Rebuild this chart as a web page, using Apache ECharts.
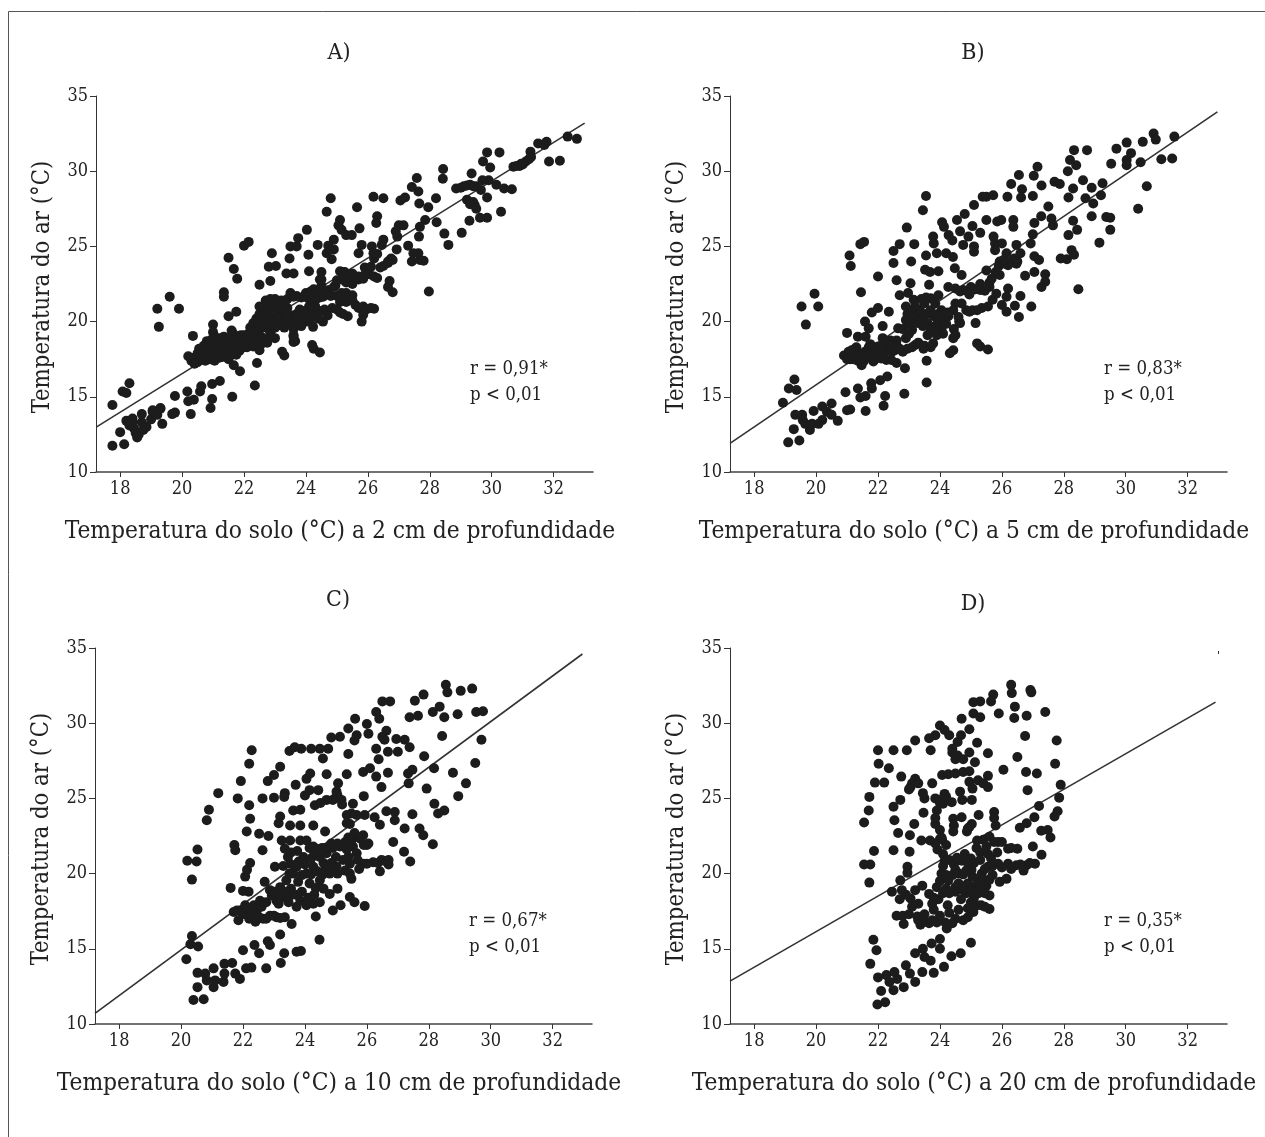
<!DOCTYPE html>
<html>
<head>
<meta charset="utf-8">
<title>Temperatura do ar e do solo</title>
<script src="https://cdn.jsdelivr.net/npm/echarts@6/dist/echarts.min.js"></script>
<style>
html, body { margin: 0; padding: 0; background: #fff; }
#main { width: 1265px; height: 1137px; }
</style>
</head>
<body>
<div id="main"></div>
<script>
var panelNames = ['A)', 'B)', 'C)', 'D)'];
var depths = ['2', '5', '10', '20'];
var rValues = ['0,91*', '0,83*', '0,67*', '0,35*'];
var xTicks = [18, 20, 22, 24, 26, 28, 30, 32];

// pontos: [solo, ar]
var pointsA = [
[17.75,11.75],[18.13,11.85],[18,12.65],[18.3,15.9],[18.08,15.35],[18.2,15.25],[17.75,14.45],
[18.2,13.4],[18.3,13.1],[18.4,13.3],[18.45,12.9],[18.5,12.6],[18.55,12.3],[18.6,12.5],[18.7,13.3],[18.75,12.8],[18.85,13],[19,13.5],[19.05,14],[19.2,13.8],[19.3,14.2],[19.36,13.2],[19.3,14.25],[19.05,14.1],[18.7,13.85],[18.4,13.55],
[19.77,13.95],[19.68,13.85],[19.77,15.05],[20.28,13.85],[20.17,15.35],[20.2,14.7],[20.38,14.8],[20.58,15.35],[20.62,15.7],[20.97,14.85],[20.92,14.25],[20.97,15.85],[21.22,16.05],[21.62,15],[22.35,15.75],
[21.87,16.7],[21.67,17.1],[22.42,17.25],[23.3,17.75],[23.23,18],[24.2,18.45],[24.25,18.2],[24.45,17.95],[24.23,19.65],[20.35,19.05],[19.25,19.65],[19.2,20.85],[19.9,20.85],[19.6,21.65],
[21.35,21.95],[21.35,21.65],[21.78,22.85],[21.67,23.5],[21.5,24.25],[22,25.05],[22.15,25.3],[21.5,20.35],[21.75,20.65],[21,19.8],
[20.2,17.7],[20.3,17.4],[20.4,17.6],[20.5,17.9],[20.5,17.3],[20.6,17.6],[20.7,17.9],[20.75,17.4],[20.8,17.7],[20.85,18.1],[20.9,17.5],[21,17.8],[21,18.3],[21.05,17.4],[21.1,18],[21.2,17.6],[21.25,18.2],[21.3,17.65],[21.35,18.4],[21.4,18.6],[21.45,18.2],[21.5,18.9],[21.55,18.4],[21.6,18.7],[21.65,19.2],[21.7,18.3],[21.75,17.8],[20.8,18.7],[20.95,18.8],[21,19.3],[21.05,19],
[21.85,18.6],[21.9,19.1],[22,18.3],[22.1,18.3],[22.2,18.5],[22.3,18.35],[22.4,18.4],[22.5,18.1],[22.15,19.2],[22.2,19.6],[22.3,19.9],[22.35,19.4],[22.4,20.2],[22.45,19.7],[22.5,20.5],[22.55,20],[22.6,20.8],[22.65,20.3],[22.7,19.7],[22.75,21],[22.8,20.5],[22.85,20.1],[22.9,19.5],[22.9,20.9],[23,20.3],[23,21],[23.05,19.7],[23.15,20.6],[23.2,21],[23.2,20],[23.3,19.6],[23.35,20.4],[23.4,20.9],[23.5,20],[23.55,20.4],[22.8,18.9],[22.85,19.2],[22.75,18.6],[23,18.9],
[23.6,19.5],[23.6,19],[23.65,18.7],[23.7,20.5],[23.8,20.8],[23.85,20.3],[24,20],[24.1,20.6],[24.15,20.2],[24.3,20.5],[24.4,20.2],[24.55,20],[23.4,21.5],[23.5,21.9],[23.7,21.7],[23.85,21.6],[24,21.9],[24.1,21.5],[24.15,22],[24.25,21.7],[24.35,22],[24.45,21.6],[24.6,21.9],[24.75,22.1],[24.8,21.7],
[24.45,22.8],[24.5,22.4],[24.95,22.4],[25,21.7],[25.1,21.3],[25.2,21.7],[25.3,21.3],[25.4,21.6],[25.6,21.1],[25.7,20.9],[25.85,21],[25.95,20.8],[26.1,20.9],[26.2,20.85],[25.85,20.45],[25.8,20],[25.35,20.35],[24.85,20.9],[25,20.8],[25.2,20.5],
[25.1,23.35],[25.25,23.3],[25.4,22.9],[25.5,23.2],[25.6,22.85],[25.7,23],[25.85,22.85],[25.95,23.3],[26.05,23.15],[26.2,23],[26.3,22.9],[26.4,23.6],[26.5,23.7],[26.65,24],[26.75,24.2],[26.7,22.7],[26.65,22.3],[26.8,21.95],
[25.8,25.1],[25.7,24.55],[26.13,25],[26.18,24.55],[26.45,25.1],[26.5,25.45],[26.93,24.8],[27.3,25.05],[27.65,25.65],[27.47,24.55],[27.42,24],[27.63,24.55],[27.68,24.1],[27.8,24.05],[27.97,22],
[28.6,25.1],[28.47,25.85],[29.03,25.9],[29.28,26.7],[28.22,26.6],[27.85,26.75],[27.68,26.3],[27.95,27.6],[28.2,28.2],[27.66,27.85],[27.63,28.65],[27.42,28.95],[27.58,29.55],[28.42,29.5],[28.43,30.15],
[26.18,28.3],[26.5,28.2],[27.05,28.05],[27.2,28.25],[25.65,27.6],[24.8,28.2],[24.67,27.3],[26.3,27],[26.27,26.55],[25.73,26.2],[25.1,26.75],[25.05,26.4],[25.15,26.1],[25.3,25.75],[25.48,25.75],[24.9,25.45],[24.72,25.05],[24.9,24.8],[24.67,24.55],[24.83,24.15],[24.38,25.1],[24.03,26.1],[23.75,25.55],[23.7,25],[23.5,25],[24.08,24.45],[23.47,24.2],[22.9,24.55],[22.8,23.65],[23.03,23.7],[23.37,23.2],[23.6,23.2],[24.1,23.35],[24.5,23.3],[22.85,22.7],[22.5,22.45],
[27,26.4],[27.15,26.4],[26.9,26],[26.95,25.65],[26.8,24.1],[26.65,23.9],
[28.85,28.85],[29.1,29],[29.3,29.1],[29.5,29],[29.65,28.75],[29.35,29.85],[29.9,29.4],[30.15,29.1],[30.4,28.85],[30.65,28.8],[30.3,27.3],[29.85,26.9],[29.62,26.9],[29.85,28.25],[29.45,27.75],[29.2,28.1],[29.4,27.95],[29.72,30.65],[29.95,30.25],[29.85,31.25],[30.25,31.25],[30.7,30.3],[30.9,30.35],[31.1,30.65],[31.25,31.3],[31.27,30.95],[31.5,31.85],[31.7,31.75],[31.85,30.65],[32.2,30.7],[31.77,31.95],[32.45,32.3],[32.75,32.15],
[24.5,22.8],[24.9,22.3],[25,22.75],[25.2,23.3],[25.55,22.8],[25.7,22.8],[25.3,21.9],[25.5,21.75],[23.6,19.1],[23.6,18.65],
[22.5,21],[22.7,21.4],[22.85,21.5],[23,21.5],[23.2,21.4],[22.6,19.6],[22.8,19.5],[23,19.6],[23.1,20.1],[22.4,19.3],[22.55,19],[23.15,20.9],[23.3,21.2],[23.4,20.4],[23.45,19.9],[23.7,19.9],[23.85,19.7],
[21.3,17.9],[21.55,17.9],[21.5,17.5],[21.8,18.2],[21.65,17.9],[21.1,18.6],[20.7,18.4],[20.55,18.2],[20.4,17.2],[21.85,18.05],[22.05,18.65],[22.3,18.8],[22.55,18.5],[21.6,19.4],[21.35,19],[21.2,18.9],[21.75,18.8],[22,19.1],
[24.4,21.9],[24.25,22.15],[24.05,21.85],[24.55,21.65],[23.95,21.65],[24.3,21.4],[24.15,21.8],[23.6,21.65],[25.9,23.6],[26.1,23.65],[26.2,24.2],[26.3,24.5],[25.9,23.1],[25.3,22.6],[25.5,22.5],[25.15,22.8],
[25.25,21.6],[25.15,21.9],[25.5,21.4],[24.6,20.8],[24.7,20.4],[24.3,21],[24.1,21],[23.9,20.7],[24.5,20.7],[25.1,20.6],[30.8,30.35],[31,30.45],[31.2,30.8],[30.95,30.5],[29,28.9],[29.2,29.05],[29.4,29],[29.7,29.4],[29.3,27.8],[29.5,27.5]
];
var pointsB = [
[19.1,11.97],[19.46,12.1],[19.28,12.85],[19.3,16.15],[19.12,15.55],[19.37,15.45],[18.93,14.6],
[19.33,13.8],[19.55,13.8],[19.57,13.45],[19.65,13.2],[19.8,12.8],[19.87,13.2],[20.08,13.2],[19.92,14.05],[20.2,13.45],[20.2,14.35],[20.5,14.55],[20.35,14],[20.5,13.8],[20.7,13.4],[21,14.1],[21.1,14.15],[21.6,14.05],[20.95,15.3],[21.35,15.55],[21.43,14.95],[21.6,15.05],[21.78,15.9],[21.8,15.55],[22.07,16.1],[22.3,16.35],[22.23,15.05],[22.18,14.4],[22.85,15.2],[22.87,16.9],[23.57,15.95],[23.57,17.4],
[20.9,17.75],[21.05,18],[21.1,17.5],[21.2,17.8],[21.26,18.2],[21.37,17.9],[21.47,17.45],[21.47,17.1],[21.58,18],[21.7,18.3],[21.75,17.8],[21.85,17.35],[22,18.35],[22.1,17.55],[22.27,17.45],[22.43,17.45],[22.6,17.25],[22.15,18.9],[22.25,18.3],[22.4,18.75],[22.6,18.75],[22.8,18],[21,19.25],[21.35,19],[21.58,20],[21.7,19.55],[21.6,19],[21.8,20.6],[22,20.9],[22.35,20.65],[22.15,19.7],[22.65,19.55],
[22.7,21.75],[22.97,21.9],[23.15,21.45],[22.9,21],[23.1,20.75],[22.9,20.1],[23.2,20.1],[23.35,20.75],[23.5,21.2],[23.7,21.55],[23.95,21.75],[23.7,20.75],[23.6,19.9],[23.8,20.35],[24.05,20.75],[23.93,19.9],[23.7,19.45],[24.05,19.45],[24.27,20.35],[24.43,20.75],[24.5,21.2],[24.65,19.9],[24.43,18.9],[24.43,18.1],[24.32,17.9],[23.1,19.45],[22.9,18.9],[23.2,18.45],[23.47,18.2],[23.78,18.55],[23.6,19.1],[23.05,22.55],[23.65,22.45],[22.6,22.75],[21.45,21.95],
[24.27,22.3],[24.5,22.2],[24.75,22.1],[25,22.3],[25.3,22.1],[25.6,22.3],[25.67,22.85],[25.5,23.4],[25.8,23.3],[25.93,24],[26.15,24.55],[26.2,23.75],[26.47,23.85],[26.6,24.55],[26.47,25.1],[25.93,23.1],
[24.85,20.75],[25.05,20.75],[25.35,20.9],[24.7,21.2],[25.15,19.9],[24.62,20],[25.2,18.55],[25.3,18.35],[25.55,18.15],[25.7,21.45],[25.82,21.85],[26.2,22.2],[26.15,21.65],[26,21.1],[26.15,20.65],[26.42,21.05],[26.6,21.7],[26.55,20.3],[26.95,21],
[26.75,23.05],[27.05,23.3],[27.4,23.15],[27.4,22.65],[27.28,22.3],[27.05,24.35],[27.2,24.1],[26.93,25.2],[27,25.8],[27.05,26.55],[27.27,27],[27.5,27.65],[27.6,26.85],[27.65,26.4],[27,28.35],[27.28,29.05],[27.03,29.7],[27.15,30.3],[26.55,29.75],[26.3,29.15],[26.65,28.8],[26.62,28.25],[26.18,28.3],[25.72,28.4],[25.5,28.3],[25.38,28.3],[25.1,27.75],[24.8,27.15],[24.55,26.75],[24.07,26.6],[24.13,26.3],[24.28,25.75],[24.4,25.4],[24.65,26],[25.05,26.35],[24.92,25.65],[24.75,25.1],[25.3,25.9],[25.1,25],[25.1,24.65],[25.5,26.75],[25.85,26.65],[25.98,26.75],[26.37,26.75],[26.37,26.3],[25.73,25.65],[25.78,25.2],[26,25.2],[25.78,24.75],
[23.78,25.65],[23.8,25.2],[23.9,24.55],[24.2,24.55],[24.42,24.3],[23.55,24.4],[23.52,23.45],[23.95,23.35],[23.68,23.3],[24.48,23.55],[24.7,23.1],[23.45,27.4],[23.55,28.35],[22.93,26.25],[23.17,25.15],[22.7,25.15],[22.5,24.7],[22.5,23.9],[23.07,24],[22,23],[21.55,25.3],[21.43,25.15],[21.08,24.4],[21.12,23.7],
[19.95,21.85],[19.53,21],[20.07,21],[19.67,19.8],
[27.7,29.3],[27.87,29.15],[28.13,30],[28.2,30.75],[28.4,30.4],[28.33,31.4],[28.75,31.4],[28.62,29.4],[28.3,28.85],[28.15,28.25],[28.9,28.9],[29.25,29.2],[29.2,28.4],[28.7,28.2],[28.95,27.85],[28.3,26.7],[28.9,27],[29.37,26.95],[29.5,26.9],[29.5,26.1],[29.15,25.25],[28.43,26.1],[28.15,25.75],[28.25,24.75],[28.33,24.45],[27.9,24.2],[28.1,24.15],[28.47,22.15],
[29.53,30.5],[29.7,31.5],[30.03,31.9],[30.17,31.2],[30.03,30.75],[30.03,30.4],[30.48,30.6],[30.55,31.95],[30.9,32.5],[30.97,32.1],[31.57,32.3],[31.15,30.8],[31.5,30.85],[30.68,29],[30.4,27.5],
[21.2,17.5],[21.35,17.4],[21.45,17.7],[21.55,17.4],[21.3,18.3],[21.15,18.1],[21,17.5],[21.65,17.7],[21.9,17.5],[22,18],[22.2,17.9],[22.35,18.5],[22.45,18],[22.6,18.4],[22.7,18.2],[21.75,18.5],[21.9,18.1],[22.15,18.4],[22.55,18.1],
[22.8,19.5],[23,19.2],[23,19.9],[22.95,20.5],[23.3,19.9],[23.3,20.4],[23.45,19.7],[23.4,20.2],[23.55,20.5],[23.4,21.5],[23.55,21.6],[23.2,21],[23,20.3],[23.85,21.2],[23.85,19.7],[24,20.25],[24.15,20.1],[24.2,19.85],[23.95,20.5],[24.25,20.6],[24.1,19.2],[23.9,19.1],[23.3,18.6],[23.5,18.4],[23.7,18.3],[23.1,18.3],[22.95,18.2],[24.45,19.5],[24.5,19.1],[24.6,20.3],
[24.65,22],[24.9,22],[25.05,22.1],[25.15,22.15],[25.45,22.05],[25.6,22.6],[25.3,22.5],[24.95,21.8],[25.55,21],[25.2,20.75],[24.95,20.65],[25.9,23.7],[26.1,23.85],[26.3,24],[26.05,24.1],[26.4,24.2],[26.5,24]
];
var pointsC = [
[20.4,11.6],[20.73,11.65],[20.53,12.45],[20.53,13.4],[20.78,13.35],[20.83,12.9],[21.05,12.45],[21.05,13.7],[21.1,12.9],[21.37,12.8],[21.4,13.35],[21.4,14],[21.65,14.05],[21.75,13.35],[21.9,13],[22.1,13.7],[22.27,13.75],[22.75,13.7],[23.22,14.05],[23.33,14.7],[23.73,14.8],[23.87,14.85],[24.47,15.6],[22,14.9],[22.37,15.25],[22.52,14.7],[22.8,15.5],[22.87,15.25],[23.2,15.95],[20.17,14.3],[20.35,15.85],[20.3,15.3],[20.55,15.15],[24.35,17.15],[23.57,16.65],
[21.7,17.45],[21.85,16.9],[21.9,17.55],[22.07,17.9],[22.23,17.55],[22.4,16.8],[22.35,17.9],[22.55,18.2],[22.65,17],[22.87,17.2],[23.08,17.1],[23.35,17.1],[22.93,18.55],[23.08,18.2],[23.3,18.45],[23.47,18.1],[23.73,17.8],[23.85,18.2],[24.05,17.9],[24.27,18],[24.48,18.1],[24.9,17.55],[25.15,17.9],[25.45,18.45],[25.6,18.1],[25.93,17.85],[24.8,18.65],[25.05,19],[25.5,19.65],
[21.6,19.05],[22,18.85],[22.18,18.8],[22.07,19.8],[22.13,20.25],[22.23,20.7],[22.7,19.45],[22.87,18.9],[23.03,20.45],
[23.2,19.1],[23.4,19.55],[23.62,20],[23.52,20.65],[23.73,20.45],[23.95,21.1],[24.05,20],[24.27,20.45],[24.48,21.1],[24.38,21.65],[24.7,21.35],[24.65,20.25],[24.8,20],[25.02,20.45],[25.23,20.9],[25.13,21.8],[24.9,21.7],[23.78,19.45],[24.15,19.35],[24.48,19.55],[23.35,21.65],[23.45,21.1],[23.25,22.2],[23.52,22.2],[23.85,22.2],[24.05,22.2],[24.27,21.8],[25.67,22.45],[25.88,22.55],[25.55,21.8],[25.67,21.35],[26.05,22],[25.45,20.65],[25.88,20.65],[26.2,20.75],[26.42,20.15],[26.47,20.9],[26.7,20.9],[26.7,20.6],[26.85,22.1],[27.2,21.45],[27.4,20.8],[28.13,21.95],[27.82,22.55],[27.7,23],[27.22,23],[27.47,23.95],[26.9,24.1],[26.9,23.55],[26.63,24.15],[26.25,23.75],[26.42,23.25],[25.93,23.9],[25.67,23.9],[25.35,23.9],[25.35,23.35],[25.55,24.65],
[24.65,22.8],[24.27,23.2],[23.85,23.2],[23.52,23.2],[23.2,23.8],[23.15,23.35],[22.82,22.5],[22.52,22.65],[22.12,22.8],[22.63,21.55],[21.72,21.9],[21.75,21.55],[22.23,23.65],[22.2,24.55],[21.83,25],[22.63,25],[23,25.05],[23.35,25.35],[23.33,25.1],[23.7,25.9],[23.62,24.2],[23.85,24.25],[24.32,24.55],[24,25.2],[24.15,25.55],[24.43,25.55],[24.05,26.3],[24.17,26.65],[24.7,26.6],[25.07,26],[25.02,25.45],[24.7,24.9],[24.97,25],[25.18,24.9],[25.35,26.6],[25.88,26.75],[26.1,27],[26.3,26.45],[26.68,26.7],[26.47,25.75],[25.9,25.15],[27.33,26.65],[27.47,26.9],[27.35,26],[27.93,25.65],[28.17,27],[28.18,24.65],[28.5,24.2],[28.3,24],[28.78,26.7],[29.2,26],[28.95,25.15],[29.5,27.35],[29.7,28.9],[28.43,29.15],[27.85,27.8],
[27.38,28.4],[26.95,28.95],[27.22,28.9],[27,28.1],[26.68,28.1],[26.3,28.3],[26.38,27.6],[26.63,29.5],[26.5,29.1],[26.57,28.9],[26.05,29.3],[26,29.95],[25.62,30.3],[25.4,29.65],[25.67,29.2],[25.6,28.85],[25.4,27.95],[25.13,29.1],[24.85,29.05],[24.75,28.3],[24.58,27.65],[24.48,28.3],[24.2,28.3],[23.88,28.3],[23.67,28.4],[23.5,28.15],[23.2,27.1],[23,26.55],[22.8,26.15],[22.28,28.2],[22.2,27.3],[21.93,26.15],[21.2,25.35],[20.9,24.25],[20.83,23.55],[20.53,21.6],[20.5,20.8],[20.2,20.85],[20.35,19.6],
[26.3,30.75],[26.4,30.3],[26.5,31.45],[26.75,31.45],[27.55,31.5],[27.83,31.9],[27.38,30.4],[27.65,30.5],[28.13,30.75],[28.35,31.1],[28.5,30.4],[28.93,30.6],[28.55,32.55],[28.6,32.05],[29.03,32.15],[29.4,32.3],[29.53,30.75],[29.75,30.8],
[21.8,17.55],[22,17.3],[22.15,17.7],[22.3,17.4],[22.45,17.6],[22.2,17],[22.6,17.8],[22.75,18.1],[22.5,17.15],[22.75,17],[23,17.2],[23.2,17.05],[23,18.8],[23.2,18.6],[23.15,18],[23.4,18.8],[23.55,19],[23.5,18.5],[23.7,18.6],[23.9,18.8],[24.1,18.4],[24.3,18.6],[24.35,19.05],[24.6,19],[23.9,19.9],[24.2,19.95],[24.4,20.15],[24.55,19.9],[24.6,20.7],[24.85,20.7],[25,21.1],[25.05,20],[25.3,20.2],[25.45,20],[25.4,21.1],[25.35,21.6],[25.5,22.2],[25.6,22.7],[25.8,22.3],[25.9,21.9],[26,21.9],[25.7,20.9],[26,20.65],[26.35,20.7],[26.55,20.85],[23.5,20],[23.8,20.8],[24,20.6],[24.2,21],[24.3,21.4],[24.55,21.7],[24.8,20.5],[23.3,20.5],[23.55,21.4],[23.75,21.5],[24.15,21.7],[24.65,21.7],[24.85,22],[25.05,22],[25.3,22.1],[25.4,22.4],[25.45,23.3],[25.5,24],[25.2,24.6],[25.05,25.2],[24.9,24.9],[24.5,24.7],[25.75,20.3]
];
var pointsD = [
[21.98,11.3],[22.23,11.45],[21.75,14],[21.85,15.6],[21.95,14.9],[22,13.1],[22.1,12.2],[22.27,13.25],[22.37,12.8],[22.5,12.25],[22.53,13.45],[22.62,13],[22.83,12.45],[22.9,13.9],[23.03,13.35],[23.2,12.8],[23.43,13.45],[23.8,13.4],[24.13,13.8],[24.37,14.5],[24.67,14.7],[25,15.4],[23.2,14.7],[23.45,15],[23.5,14.45],[23.7,14.2],[24,15],[23.73,15.35],[24,15.65],[24.22,16.35],
[22.6,17.2],[22.83,16.65],[22.45,18.8],[22.72,19.55],[22.77,18.9],[23.05,18.35],[23.1,17.8],[23.27,17.15],[23.37,16.6],[23.65,16.7],[23.43,19.2],[23.65,18.65],[23.75,18],[23.9,16.75],[24.17,16.75],[24.5,17],[24.75,16.9],[25.08,17.45],[25.6,17.65],[25.33,17.9],[25,18.1],[24.68,18.3],[24.25,17.9],[23.95,18.3],[23.9,19.1],
[24.05,20],[24.15,20.85],[24.27,19.55],[24.5,20.25],[24.6,19.35],[24.7,20.85],[24.8,21.3],[25.02,20.25],[24.9,19.35],[25.23,19.55],[25.5,19.2],[25.6,18.55],[25.35,20],[25.55,20.45],[25.88,20.65],[26.2,20.65],[26.47,20.55],[26.8,20.55],[27.07,20.65],[25.93,19.45],[26.15,19.65],[25.18,21.7],[25.4,22.25],[25.6,22.45],[25.88,22.1],[26.2,21.65],[26.5,21.65],[27,21.8],[27.28,21.25],[23.92,21.6],[24.07,22.25],
[22.95,20.45],[22.95,20.05],[21.72,19.4],[21.55,20.6],[21.75,20.6],[21.87,21.5],[22.5,21.55],[23.02,21.45],[22.65,22.7],[22.53,23.55],[22.5,24.45],[22.72,24.9],[21.55,23.4],[21.7,24.2],[21.72,25.1],[21.9,26.05],[22.2,26.05],[22.02,27.3],[22.35,27],[22,28.2],[22.5,28.2],[22.93,28.2],[22.75,26.45],[23.2,26.3],[23.05,25.75],[23.75,26],[23.45,25.35],[23.5,25],[23.17,23.3],[23.03,22.55],[23.4,22.2],[23.68,22.2],[23.47,24.05],[23.85,25],[24.15,25.3],[24.1,24.65],[24.38,24.75],[23.85,23.3],[24,22.9],[24.43,23.65],[24.7,23.75],[24.43,22.8],[24.87,22.8],[25.03,23.3],[25.25,23.9],[25.75,24.1],[25.8,23.2],[24.65,25.45],[24.72,24.9],[25.03,24.9],
[24.07,26.55],[24.27,26.6],[24.5,26.65],[24.75,26.75],[24.95,26.8],[24.95,26.1],[25.05,25.65],[25.23,26.2],[25.55,26.5],[25.55,25.75],[26.05,26.9],[26.78,26.75],[27.13,26.65],[26.83,25.55],[26.5,27.75],[26.75,29.15],[26.42,31.1],[26.4,30.35],[26.8,30.5],[27.4,30.75],[27.77,28.85],[27.72,27.3],[27.9,25.9],[27.85,25.05],[27.8,24.15],[27.7,23.8],[27.57,22.4],[27.48,22.9],[27.27,22.85],[27.2,24.5],[27.05,23.75],[26.8,23.35],[26.58,23.05],
[26.92,32.2],[26.95,32.05],[26.3,32.55],[26.32,32],[25.72,31.9],[25.65,31.45],[25.3,31.45],[25.08,31.4],[25.08,30.65],[25.3,30.4],[25.9,30.65],[24.7,30.3],[24.95,29.6],[24.68,29.2],[24.57,28.75],[24,29.85],[23.85,29.2],[24.15,29.55],[24.3,29.2],[23.65,29],[23.2,28.85],[23.7,28.2],[24.4,28.3],[24.57,27.85],[24.75,27.6],[24.95,28.05],[25.2,28.7],[25.13,27.4],[25.55,28],
[24.1,20.5],[24.2,19.9],[24.3,20.9],[24.4,19.9],[24.45,20.6],[24.55,21.05],[24.6,20],[24.75,19.95],[24.85,20.2],[24.9,20.7],[25.05,19.8],[25.1,20.7],[25.15,19.2],[25.3,19.1],[25.4,19.6],[25.45,18.7],[25.25,18.7],[25.1,18.4],[24.85,18.7],[24.5,18.8],[24.3,18.7],[24.1,18.7],[24,19.5],[24.2,19],[24.5,19.1],[24.75,18.9],[25,18.9],[23.8,18.4],[23.5,17.3],[23.8,17.6],[24,17.2],[24.3,17.4],[24.6,17.6],[24.9,17.7],[23.3,18],[23.2,18.9],[22.9,18.6],[22.7,18.3],[22.8,17.2],[23,17.3],[23.3,16.9],[23.5,16.8],[23.75,16.9],[24.4,16.7],[24.9,17.1],[25.2,17.9],[25.45,17.8],[24.1,21.3],[24.2,21.9],[24,22.3],[23.85,22],[25.3,21.4],[25,21],[25.3,20.9],[25.55,21.3],[25.75,22.1],[26,22.1],[26.3,21.7],[25.7,20.5],[26,20.4],[26.3,20.3],[26.6,20.6],[26.9,20.7],[26.7,20.2],
[23.1,26],[23,25.6],[24.1,25],[24.2,25.1],[24,24.7],[23.9,24.2],[23.85,23.7],[24.05,22.4],[24.95,23.1],[24.9,23],[24.45,23.2],[25.75,23.7],[23.3,26],[25.4,26],[24.4,28.05],[24.5,27.6],
[25.6,19.6],[25.7,19.9],[25.45,20.3],[25.65,21],[25.85,21.4],[25.5,21.8],[25.2,22.2]
];

// retas de regressao: [[x0, y0], [x1, y1]]
var lineA = [[17.24, 13], [33, 33.2]];
var lineB = [[17.22, 11.9], [32.96, 33.95]];
var lineC = [[17.22, 10.7], [32.96, 34.6]];
var lineD = [[17.22, 12.85], [32.9, 31.4]];

var allPoints = [pointsA, pointsB, pointsC, pointsD];
var allLines = [lineA, lineB, lineC, lineD];

var serif = '"DejaVu Serif Condensed", "Liberation Serif", serif';
var inkText = '#222';
var gridLeft = [96, 730, 95, 730];
var gridTop = [96, 96, 648, 648];
var panelTitleTop = [42, 42, 589, 593];

var myChart = echarts.init(document.getElementById('main'));
var options = {
    animation: false,
    backgroundColor: '#fff',
    title: [],
    grid: [],
    xAxis: [],
    yAxis: [],
    series: [],
    graphic: [
        // moldura: so topo e esquerda aparecem na figura
        { type: 'line', shape: { x1: 8.5, y1: 11.5, x2: 1265, y2: 11.5 }, style: { stroke: '#555', lineWidth: 1 } },
        { type: 'line', shape: { x1: 8.5, y1: 11.5, x2: 8.5, y2: 1137 }, style: { stroke: '#555', lineWidth: 1 } },
        // pequena marca solta no painel D
        { type: 'line', shape: { x1: 1218.5, y1: 651, x2: 1218.5, y2: 654 }, style: { stroke: '#333', lineWidth: 1 } }
    ]
};

for (var i = 0; i < 4; i++) {
    options.grid.push({ left: gridLeft[i], top: gridTop[i], width: 497, height: 376 });
    options.xAxis.push({
        type: 'value',
        gridIndex: i,
        min: 17.22,
        max: 33.27,
        name: 'Temperatura do solo (°C) a ' + depths[i] + ' cm de profundidade',
        nameLocation: 'middle',
        nameGap: 48,
        nameTextStyle: { fontFamily: serif, fontSize: 24.3, color: inkText, padding: [0, 9, 0, 0] },
        splitLine: { show: false },
        axisLine: { onZero: false, lineStyle: { color: '#444', width: 1.5 } },
        axisTick: { length: 5, customValues: xTicks, lineStyle: { color: '#333' } },
        axisLabel: { fontFamily: serif, fontSize: 18, color: inkText, margin: 8, customValues: xTicks }
    });
    options.yAxis.push({
        type: 'value',
        gridIndex: i,
        min: 10,
        max: 35,
        interval: 5,
        name: 'Temperatura do ar (°C)',
        nameLocation: 'middle',
        nameGap: 41,
        nameTextStyle: { fontFamily: serif, fontSize: 23.7, color: inkText, padding: [0, 6, 0, 0] },
        splitLine: { show: false },
        axisLine: { onZero: false, lineStyle: { color: '#333', width: 1 } },
        axisTick: { length: 6, lineStyle: { color: '#333' } },
        axisLabel: { fontFamily: serif, fontSize: 18, color: inkText, margin: 8 }
    });
    options.series.push({
        type: 'line',
        xAxisIndex: i,
        yAxisIndex: i,
        data: allLines[i],
        showSymbol: false,
        lineStyle: { color: '#333', width: 1.6 },
        z: 2
    });
    options.series.push({
        type: 'scatter',
        xAxisIndex: i,
        yAxisIndex: i,
        data: allPoints[i],
        symbol: 'circle',
        symbolSize: 10,
        itemStyle: { color: '#1c1c1c', opacity: 1 },
        z: 3
    });
    options.title.push({
        text: panelNames[i],
        left: gridLeft[i] + 243,
        top: panelTitleTop[i],
        padding: 0,
        textAlign: 'center',
        textStyle: { fontFamily: serif, fontSize: 23, fontWeight: 'normal', color: inkText }
    });
    options.title.push({
        text: 'r = ' + rValues[i] + '\np < 0,01',
        left: gridLeft[i] + 374,
        top: gridTop[i] + 260,
        padding: 0,
        textStyle: { fontFamily: serif, fontSize: 18.5, fontWeight: 'normal', color: inkText, lineHeight: 26 }
    });
}
myChart.setOption(options, true);
</script>
</body>
</html>
